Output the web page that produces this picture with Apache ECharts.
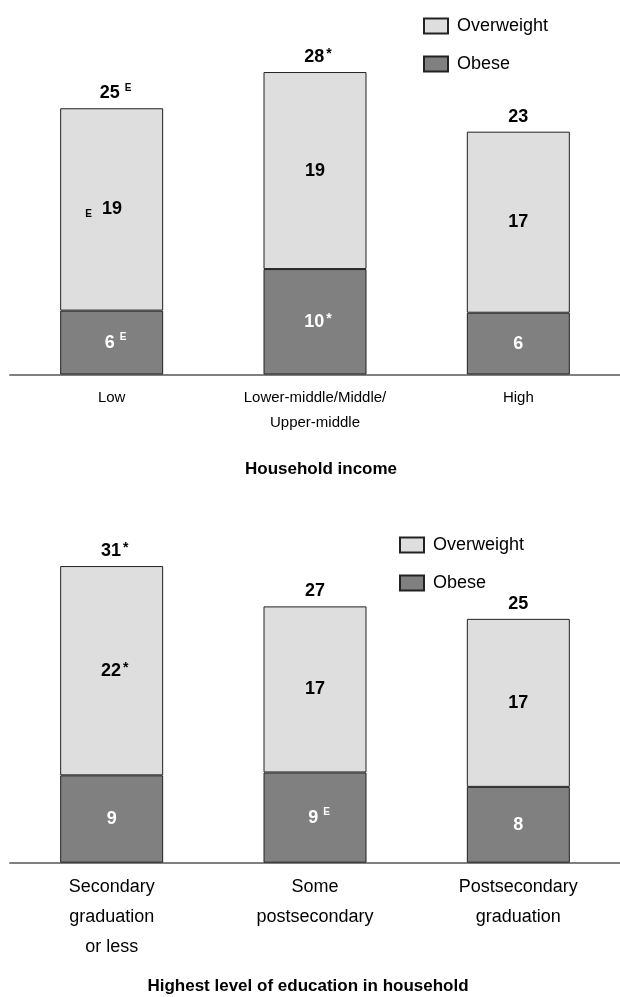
<!DOCTYPE html>
<html>
<head>
<meta charset="utf-8">
<script src="https://cdn.jsdelivr.net/npm/echarts@6/dist/echarts.min.js"></script>
<style>html,body{margin:0;padding:0;background:#fff;}#c{width:620px;height:997px;}</style>
</head>
<body>
<div id="c"></div>
<script>
// ---- Data: panel 1 (household income) ----
const categories1 = ['Low', 'Lower-middle/Middle/\nUpper-middle', 'High'];
const obese1 = [6.0, 9.9, 5.8];
const overweight1 = [19.0, 18.5, 17.0];
const obeseText1 = ['6', '10', '6'];
const obeseMark1 = ['E', '*', ''];
const overweightText1 = ['19', '19', '17'];
const overweightPre1 = ['E', '', ''];
const overweightMark1 = ['', '', ''];
const totalText1 = ['25', '28', '23'];
const totalMark1 = ['E', '*', ''];

// ---- Data: panel 2 (education) ----
const categories2 = ['Secondary\ngraduation\nor less', 'Some\npostsecondary', 'Postsecondary\ngraduation'];
const obese2 = [9.1, 9.4, 7.9];
const overweight2 = [21.8, 17.3, 17.5];
const obeseText2 = ['9', '9', '8'];
const obeseMark2 = ['', 'E', ''];
const overweightText2 = ['22', '17', '17'];
const overweightPre2 = ['', '', ''];
const overweightMark2 = ['*', '', ''];
const totalText2 = ['31', '27', '25'];
const totalMark2 = ['*', '', ''];

const titles = ['Household income', 'Highest level of education in household'];
const legendNames = ['Overweight', 'Obese'];

const FF = "'Liberation Sans Narrow','Arial Narrow','Liberation Sans',Arial,sans-serif";
const C_OVER = '#dedede', C_OBESE = '#808080', C_BORDER = '#222';

function richFor(color) {
  return {
    n: {fontFamily: FF, fontSize: 18, fontWeight: 'bold', color: color, lineHeight: 20},
    sup: {fontFamily: FF, fontSize: 10, fontWeight: 'bold', color: color, lineHeight: 20, verticalAlign: 'top', padding: [0, 0, 0, 5]},
    star: {fontFamily: FF, fontSize: 14, fontWeight: 'bold', color: color, lineHeight: 20, verticalAlign: 'top', padding: [0, 0, 0, 2]},
    pre: {fontFamily: FF, fontSize: 10, fontWeight: 'bold', color: color, lineHeight: 20, verticalAlign: 'bottom', padding: [0, 10, 0, 0]}
  };
}
function fmt(txt, pre, mark) {
  let s = '';
  if (pre) s += '{pre|' + pre + '}';
  s += '{n|' + txt + '}';
  if (mark === '*') s += '{star|*}';
  else if (mark) s += '{sup|' + mark + '}';
  return s;
}
function items(vals, texts, pres, marks) {
  return vals.map((v, i) => {
    const off = [0, 0];
    if (pres[i]) off[0] -= 8;
    if (marks[i]) off[0] += marks[i] === '*' ? 3 : 4;
    return {value: v, label: {formatter: fmt(texts[i], pres[i], marks[i]), offset: off}};
  });
}

function panel(idx, obese, over, oT, oM, wT, wP, wM, tT, tM) {
  const totals = obese.map((v, i) => +(v + over[i]).toFixed(2));
  return [
    {
      name: 'Obese', type: 'bar', stack: 's' + idx, xAxisIndex: idx, yAxisIndex: idx,
      barWidth: 103, itemStyle: {color: C_OBESE, borderColor: C_BORDER, borderWidth: 1},
      label: {show: true, position: 'inside', color: '#fff', rich: richFor('#fff')},
      data: items(obese, oT, ['', '', ''], oM), animation: false
    },
    {
      name: 'Overweight', type: 'bar', stack: 's' + idx, xAxisIndex: idx, yAxisIndex: idx,
      barWidth: 103, itemStyle: {color: C_OVER, borderColor: C_BORDER, borderWidth: 1},
      label: {show: true, position: 'inside', color: '#000', rich: richFor('#000')},
      data: items(over, wT, wP, wM), animation: false
    },
    {
      name: 'total' + idx, type: 'scatter', xAxisIndex: idx, yAxisIndex: idx,
      symbolSize: 0, itemStyle: {color: '#000', opacity: 1},
      label: {show: true, position: 'top', distance: 5, color: '#000', textBorderWidth: 0, rich: richFor('#000')},
      data: items(totals, tT, ['', '', ''], tM), animation: false, silent: true
    }
  ];
}

const chart = echarts.init(document.getElementById('c'), null, {renderer: 'canvas'});
const axisBase = {
  type: 'category', axisTick: {show: false},
  axisLine: {lineStyle: {color: '#808080', width: 2}}
};
const legendBase = {
  data: legendNames, orient: 'vertical', padding: 0, itemWidth: 24, itemHeight: 15, itemGap: 20,
  icon: 'rect', selectedMode: false,
  textStyle: {fontFamily: FF, fontSize: 18, color: '#000', lineHeight: 15, padding: [0, 0, 0, 4]}
};
chart.setOption({
  animation: false,
  grid: [
    {left: 10, right: 0, top: 55, bottom: 622.5},
    {left: 10, right: 0, top: 526.7, bottom: 134.3}
  ],
  xAxis: [
    Object.assign({}, axisBase, {gridIndex: 0, data: categories1,
      axisLabel: {interval: 0, fontFamily: FF, fontSize: 15, color: '#000', margin: 11, lineHeight: 25}}),
    Object.assign({}, axisBase, {gridIndex: 1, data: categories2,
      axisLabel: {interval: 0, fontFamily: FF, fontSize: 18, color: '#000', margin: 9, lineHeight: 30}})
  ],
  yAxis: [
    {type: 'value', gridIndex: 0, min: 0, max: 30, show: false, splitLine: {show: false}},
    {type: 'value', gridIndex: 1, min: 0, max: 35, show: false, splitLine: {show: false}}
  ],
  legend: [
    Object.assign({}, legendBase, {left: 423, top: 17}),
    Object.assign({}, legendBase, {left: 399, top: 536})
  ],
  graphic: [
    {type: 'text', x: 321, y: 469, style: {text: titles[0], textAlign: 'center', textVerticalAlign: 'middle',
      font: 'bold 17px ' + FF, fill: '#000'}},
    {type: 'text', x: 308, y: 986, style: {text: titles[1], textAlign: 'center', textVerticalAlign: 'middle',
      font: 'bold 17px ' + FF, fill: '#000'}}
  ],
  series: [].concat(
    panel(0, obese1, overweight1, obeseText1, obeseMark1, overweightText1, overweightPre1, overweightMark1, totalText1, totalMark1),
    panel(1, obese2, overweight2, obeseText2, obeseMark2, overweightText2, overweightPre2, overweightMark2, totalText2, totalMark2)
  )
});
</script>
</body>
</html>
